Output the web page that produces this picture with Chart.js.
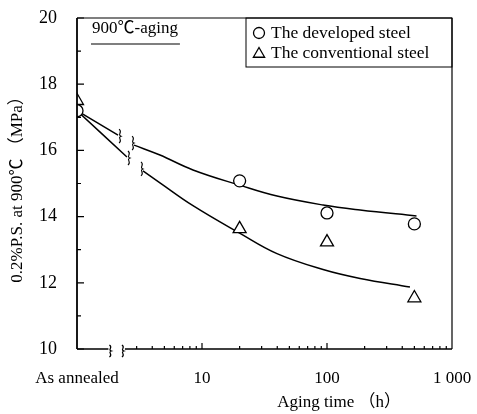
<!DOCTYPE html>
<html>
<head>
<meta charset="utf-8">
<script src="https://cdn.jsdelivr.net/npm/chart.js@4.4.1/dist/chart.umd.min.js"></script>
<style>
html,body{margin:0;padding:0;background:#fff;}
#wrap{width:477px;height:414px;}
</style>
</head>
<body>
<div id="wrap"><canvas id="c" width="477" height="414"></canvas></div>
<script>
// ---- data ----
const agingHours = [1, 20, 100, 500];            // 1 = "As annealed"
const developedSteel = [17.2, 15.08, 14.11, 13.78];
const conventionalSteel = [17.5, 13.63, 13.23, 11.54];

const developedFitX = [1, 2.13, 2.5, 2.86, 4.61, 8.47, 20, 39.8, 93, 184, 520];
const developedFitY = [17.2, 16.46, null, 16.16, 15.86, 15.41, 14.95, 14.62, 14.35, 14.20, 14.02];
const conventionalFitX = [1, 2.51, 2.9, 3.37, 4.61, 8.47, 20, 39.8, 93, 184, 461];
const conventionalFitY = [17.2, 15.8, null, 15.38, 15.02, 14.33, 13.5, 12.88, 12.40, 12.13, 11.87];

const xTickValues = [1, 10, 100, 1000];
const xTickLabels = ['As annealed', '10', '100', '1 000'];
const yTickValues = [10, 12, 14, 16, 18, 20];
const axisBreak = [1.85, 2.33];

const seriesNames = ['The developed steel', 'The conventional steel'];
const conditionLabel = '900\u2103-aging';
const xTitle = 'Aging time \uFF08h\uFF09';
const yTitle = '0.2%P.S. at 900\u2103 \uFF08MPa\uFF09';

const FONT = "'Liberation Serif', 'Noto Sans CJK SC', serif";

function pts(xs, ys) { return xs.map((x, i) => ({x: x, y: ys[i]})); }

function squiggle(ctx, x, y, h) {
  ctx.beginPath();
  ctx.moveTo(x - 1, y - h);
  ctx.bezierCurveTo(x + 3, y - h * 0.6, x - 3, y - h * 0.2, x + 1, y);
  ctx.bezierCurveTo(x - 3, y + h * 0.2, x + 3, y + h * 0.6, x - 1, y + h);
  ctx.stroke();
}

const decor = {
  id: 'decor',
  afterDatasetsDraw(chart) {
    const ctx = chart.ctx;
    const a = chart.chartArea;
    const xs = chart.scales.x, ys = chart.scales.y;
    ctx.save();
    ctx.strokeStyle = '#000';
    ctx.fillStyle = '#000';
    // frame
    ctx.lineWidth = 1.8;
    ctx.beginPath();
    ctx.moveTo(a.left, a.top); ctx.lineTo(a.left, a.bottom);
    ctx.stroke();
    ctx.lineWidth = 1.2;
    ctx.beginPath();
    ctx.moveTo(a.left, a.top); ctx.lineTo(a.right, a.top);
    ctx.moveTo(a.right, a.top); ctx.lineTo(a.right, a.bottom);
    ctx.stroke();
    // bottom axis with break
    const b1 = xs.getPixelForValue(axisBreak[0]);
    const b2 = xs.getPixelForValue(axisBreak[1]);
    ctx.lineWidth = 1.6;
    ctx.beginPath();
    ctx.moveTo(a.left, a.bottom); ctx.lineTo(b1 - 2, a.bottom);
    ctx.moveTo(b2 + 2, a.bottom); ctx.lineTo(a.right, a.bottom);
    ctx.stroke();
    ctx.lineWidth = 1.2;
    squiggle(ctx, b1, a.bottom + 2, 6);
    squiggle(ctx, b2, a.bottom + 2, 6);
    // y ticks (inward)
    ctx.lineWidth = 1.2;
    ctx.beginPath();
    for (let v = ys.min; v <= ys.max; v += 1) {
      const p = ys.getPixelForValue(v);
      const len = (v % 2 === 0) ? 7 : 4;
      ctx.moveTo(a.left, p); ctx.lineTo(a.left + len, p);
    }
    // x ticks (inward)
    for (let d = 1; d <= 100; d *= 10) {
      for (let m = 1; m <= 9; m++) {
        const v = d * m;
        if (v < 3) continue;
        const p = xs.getPixelForValue(v);
        const len = (m === 1) ? 6 : 3;
        ctx.moveTo(p, a.bottom); ctx.lineTo(p, a.bottom - len);
      }
    }
    ctx.stroke();
    // curve breaks
    ctx.lineWidth = 1.1;
    [2, 3].forEach(di => {
      const meta = chart.getDatasetMeta(di);
      const data = chart.data.datasets[di].data;
      const gi = data.findIndex(d => d.y === null);
      const e1 = meta.data[gi - 1], s2 = meta.data[gi + 1];
      squiggle(ctx, e1.x + 2, e1.y + 1, 7);
      squiggle(ctx, s2.x - 1, s2.y - 2, 7);
    });
    // condition label
    ctx.fillStyle = '#000';
    ctx.font = '17px ' + FONT;
    ctx.textBaseline = 'alphabetic';
    ctx.textAlign = 'left';
    const tx = a.left + 15;
    ctx.fillText(conditionLabel, tx, a.top + 15);
    const w = ctx.measureText(conditionLabel).width;
    ctx.lineWidth = 1.2;
    ctx.beginPath();
    ctx.moveTo(tx - 1, a.top + 26); ctx.lineTo(tx + w + 2, a.top + 26);
    ctx.stroke();
    // legend box
    const lw = 206, lh = 49;
    ctx.lineWidth = 1;
    ctx.strokeRect(a.right - lw, a.top, lw, lh);
    ctx.font = '17.5px ' + FONT;
    ctx.textBaseline = 'middle';
    [0, 1].forEach(i => {
      const ds = chart.data.datasets[i];
      const cy = a.top + 15 + i * 20;
      const cx = a.right - lw + 13;
      ctx.fillStyle = '#fff';
      ctx.strokeStyle = '#000';
      ctx.lineWidth = 1.3;
      Chart.helpers.drawPoint(ctx, {
        pointStyle: ds.pointStyle, radius: i === 0 ? 5.5 : 6.5,
        borderWidth: 1.3, rotation: 0
      }, cx, cy + (i === 1 ? 1 : 0));
      ctx.fillStyle = '#000';
      ctx.fillText(seriesNames[i], cx + 12, cy);
    });
    // axis titles
    ctx.fillStyle = '#000';
    ctx.font = '17px ' + FONT;
    ctx.textAlign = 'center';
    ctx.textBaseline = 'middle';
    ctx.fillText(xTitle, xs.getPixelForValue(125), 403);
    ctx.save();
    ctx.translate(18, (a.top + a.bottom) / 2 + 2);
    ctx.rotate(-Math.PI / 2);
    ctx.fillText(yTitle, 0, 0);
    ctx.restore();
    ctx.restore();
  }
};

const markerBase = {
  showLine: false, backgroundColor: '#fff', borderColor: '#000',
  pointBorderWidth: 1.3, order: 0
};
const fitBase = {
  showLine: true, borderColor: '#000', borderWidth: 1.5, pointRadius: 0,
  spanGaps: false, tension: 0.4, order: 1, fill: false
};

new Chart(document.getElementById('c'), {
  type: 'scatter',
  data: {
    datasets: [
      Object.assign({}, markerBase, {label: seriesNames[0], data: pts(agingHours, developedSteel),
        pointStyle: 'circle', pointRadius: 6}),
      Object.assign({}, markerBase, {label: seriesNames[1], data: pts(agingHours, conventionalSteel),
        pointStyle: 'triangle', pointRadius: 7.5}),
      Object.assign({}, fitBase, {label: 'fit1', data: pts(developedFitX, developedFitY)}),
      Object.assign({}, fitBase, {label: 'fit2', data: pts(conventionalFitX, conventionalFitY)})
    ]
  },
  options: {
    responsive: false,
    animation: false,
    events: [],
    layout: {padding: {top: 18, right: 25, left: 0, bottom: 0}},
    plugins: {legend: {display: false}, tooltip: {enabled: false}},
    scales: {
      x: {
        type: 'logarithmic', min: 1, max: 1000,
        grid: {display: false}, border: {display: false},
        afterBuildTicks(s) { s.ticks = xTickValues.map(v => ({value: v})); },
        afterFit(s) { s.height = 65; s.paddingLeft = 0; s.paddingRight = 0; },
        ticks: {
          autoSkip: false, maxRotation: 0, padding: 11,
          color: '#000', font: {family: FONT, size: 17},
          callback(v) { const i = xTickValues.indexOf(v); return i >= 0 ? xTickLabels[i] : ''; }
        }
      },
      y: {
        type: 'linear', min: 10, max: 20,
        grid: {display: false}, border: {display: false},
        afterBuildTicks(s) { s.ticks = yTickValues.map(v => ({value: v})); },
        afterFit(s) { s.width = 77; s.paddingTop = 0; s.paddingBottom = 0; },
        ticks: {padding: 12, color: '#000', font: {family: FONT, size: 18}}
      }
    }
  },
  plugins: [decor]
});
</script>
</body>
</html>
